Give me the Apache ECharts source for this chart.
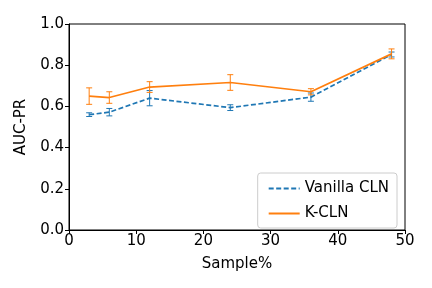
<!DOCTYPE html>
<html>
<head>
<meta charset="utf-8">
<script src="https://cdn.jsdelivr.net/npm/echarts@6/dist/echarts.min.js"></script>
<style>
  html, body { margin: 0; padding: 0; background: #fff; }
  #chart { width: 432px; height: 288px; }
</style>
</head>
<body>
<div id="chart"></div>
<script>
// sample percentages
const samples = [3, 6, 12, 24, 36, 48];
// Vanilla CLN mean and std
const vanilla = [0.560, 0.572, 0.640, 0.594, 0.645, 0.852];
const vanillaErr = [0.009, 0.018, 0.037, 0.014, 0.020, 0.012];
// K-CLN mean and std
const kcln = [0.650, 0.643, 0.694, 0.716, 0.671, 0.855];
const kclnErr = [0.040, 0.028, 0.026, 0.038, 0.015, 0.024];

const blue = '#1f77b4';
const orange = '#ff7f0e';
const font = 'DejaVu Sans';
const fs = 15;

function pairs(ys) {
  return samples.map((x, i) => [x, ys[i]]);
}
function errData(ys, es) {
  return samples.map((x, i) => [x, ys[i] - es[i], ys[i] + es[i]]);
}
function errSeries(name, ys, es, color) {
  return {
    name: name,
    type: 'custom',
    data: errData(ys, es),
    z: 1,
    itemStyle: { color: color },
    renderItem: function (params, api) {
      const lo = api.coord([api.value(0), api.value(1)]);
      const hi = api.coord([api.value(0), api.value(2)]);
      const cap = 3;
      const st = { stroke: color, lineWidth: 1 };
      return {
        type: 'group',
        children: [
          { type: 'line', shape: { x1: lo[0], y1: lo[1], x2: hi[0], y2: hi[1] }, style: st },
          { type: 'line', shape: { x1: lo[0] - cap, y1: lo[1], x2: lo[0] + cap, y2: lo[1] }, style: st },
          { type: 'line', shape: { x1: hi[0] - cap, y1: hi[1], x2: hi[0] + cap, y2: hi[1] }, style: st }
        ]
      };
    }
  };
}

const chart = echarts.init(document.getElementById('chart'));
chart.setOption({
  animation: false,
  textStyle: { fontFamily: font },
  grid: { left: 69, right: 27, top: 24, bottom: 58, show: true, borderColor: '#000', borderWidth: 1 },
  xAxis: {
    type: 'value', min: 0, max: 50, interval: 10,
    name: 'Sample%', nameLocation: 'middle', nameGap: 27,
    nameTextStyle: { fontSize: fs, color: '#000', fontFamily: font },
    axisLine: { lineStyle: { color: '#000' } },
    axisTick: { length: 4, lineStyle: { color: '#000' } },
    axisLabel: { fontSize: fs, color: '#000', fontFamily: font, margin: 4 },
    splitLine: { show: false }
  },
  yAxis: {
    type: 'value', min: 0, max: 1, interval: 0.2,
    name: 'AUC-PR', nameLocation: 'middle', nameGap: 40,
    nameTextStyle: { fontSize: fs, color: '#000', fontFamily: font },
    axisLine: { show: true, lineStyle: { color: '#000' } },
    axisTick: { show: true, length: 4, lineStyle: { color: '#000' } },
    axisLabel: { fontSize: fs, color: '#000', fontFamily: font, margin: 5,
      formatter: v => v.toFixed(1) },
    splitLine: { show: false }
  },
  legend: {
    orient: 'vertical', right: 35, bottom: 60,
    data: ['Vanilla CLN', 'K-CLN'],
    itemWidth: 31, itemHeight: 12, itemGap: 10,
    itemStyle: { opacity: 0 },
    backgroundColor: '#fff', borderColor: '#ccc', borderWidth: 1, borderRadius: 3,
    padding: [8, 8, 7, 10],
    textStyle: { fontSize: fs, color: '#000', fontFamily: font }
  },
  series: [
    errSeries('Vanilla CLN err', vanilla, vanillaErr, blue),
    errSeries('K-CLN err', kcln, kclnErr, orange),
    {
      name: 'Vanilla CLN', type: 'line', data: pairs(vanilla),
      symbol: 'none', z: 2,
      lineStyle: { color: blue, width: 1.7, type: [5, 2.5] },
      itemStyle: { color: blue }
    },
    {
      name: 'K-CLN', type: 'line', data: pairs(kcln),
      symbol: 'none', z: 2,
      lineStyle: { color: orange, width: 1.7 },
      itemStyle: { color: orange }
    }
  ]
});
</script>
</body>
</html>
